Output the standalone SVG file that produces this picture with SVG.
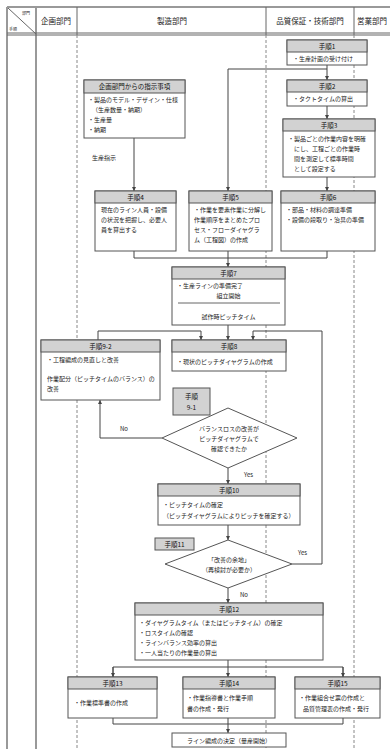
<svg xmlns="http://www.w3.org/2000/svg" width="390" height="749" viewBox="0 0 390 749">
<style>
.box{fill:#fff;stroke:#555;stroke-width:1}
.hd{fill:#d2d2d2;stroke:#555;stroke-width:1}
.lane{stroke:#888;stroke-width:1;stroke-dasharray:3 2;fill:none}
.frame{stroke:#999;stroke-width:2;fill:none}
.sep{stroke:#666;stroke-width:1;fill:none}
.ln{stroke:#444;stroke-width:1;fill:none}
.t{font-family:"Noto Sans CJK JP","Noto Sans",sans-serif;font-size:6px;fill:#222}
.h{font-family:"Noto Sans CJK JP","Noto Sans",sans-serif;font-size:6.5px;fill:#111;text-anchor:middle}
.c{text-anchor:middle}
.lh{font-family:"Noto Sans CJK JP","Noto Sans",sans-serif;font-size:7.5px;fill:#222;text-anchor:middle}
</style>
<defs>
<marker id="ar" viewBox="0 0 6 6" refX="6" refY="3" markerWidth="4" markerHeight="4" orient="auto">
<path d="M0,0 L6,3 L0,6 Z" fill="#444"/>
</marker>
</defs>
<rect width="390" height="749" fill="#fff"/>
<g id="lanes">
<line class="frame" x1="7" y1="7" x2="7" y2="749"/>
<line class="frame" x1="36" y1="7" x2="36" y2="749"/>
<line class="frame" x1="7" y1="7" x2="390" y2="7"/>
<line class="sep" x1="7" y1="33" x2="390" y2="33"/>
<line class="sep" x1="7" y1="35" x2="390" y2="35"/>
<line class="sep" x1="77" y1="7" x2="77" y2="35"/>
<line class="sep" x1="266" y1="7" x2="266" y2="35"/>
<line class="sep" x1="354" y1="7" x2="354" y2="35"/>
<line class="lane" x1="77" y1="35" x2="77" y2="749"/>
<line class="lane" x1="266" y1="35" x2="266" y2="749"/>
<line class="lane" x1="354" y1="35" x2="354" y2="749"/>
<line class="sep" x1="8" y1="8" x2="36" y2="34"/>
<text class="t" x="22" y="15" style="font-size:4px">部門</text>
<text class="t" x="9" y="31" style="font-size:4px">手順</text>
<text class="lh" x="56" y="24">企画部門</text>
<text class="lh" x="172" y="24">製造部門</text>
<text class="lh" x="310" y="24">品質保証・技術部門</text>
<text class="lh" x="372" y="24">営業部門</text>
</g>
<g id="connectors">
<path class="ln" d="M327,65 V80" marker-end="url(#ar)"/>
<path class="ln" d="M327,69 H228 V191" marker-end="url(#ar)"/>
<path class="ln" d="M327,106 V119" marker-end="url(#ar)"/>
<path class="ln" d="M327,177 V191" marker-end="url(#ar)"/>
<path class="ln" d="M134,138 V191" marker-end="url(#ar)"/>
<path class="ln" d="M134,251 V258 H327 V251 M228,251 V258"/>
<path class="ln" d="M228,258 V267" marker-end="url(#ar)"/>
<path class="ln" d="M228,325 V340" marker-end="url(#ar)"/>
<path class="ln" d="M98,340 V331 H201 V340" marker-end="url(#ar)"/>
<path class="ln" d="M162,438 H100 V400" marker-end="url(#ar)"/>
<path class="ln" d="M228,468 V484" marker-end="url(#ar)"/>
<path class="ln" d="M228,525 V540" marker-end="url(#ar)"/>
<path class="ln" d="M292,564 H322 V331 H253 V340" marker-end="url(#ar)"/>
<path class="ln" d="M228,588 V603" marker-end="url(#ar)"/>
<path class="ln" d="M228,660 V667 M113,677 V667 H343 V677"/>
<path class="ln" d="M113,667 V677" marker-end="url(#ar)"/>
<path class="ln" d="M228,667 V677" marker-end="url(#ar)"/>
<path class="ln" d="M343,667 V677" marker-end="url(#ar)"/>
<path class="ln" d="M113,718 V724 H343 V718 M228,718 V724"/>
<path class="ln" d="M228,724 V733" marker-end="url(#ar)"/>
<text class="t" x="92" y="160">生産指示</text>
<text class="t" x="120" y="431">No</text>
<text class="t" x="244" y="477">Yes</text>
<text class="t" x="298" y="555">Yes</text>
<text class="t" x="240" y="597">No</text>
</g>
<g id="step1">
<rect class="box" x="287" y="40" width="80" height="25"/>
<rect class="hd" x="287" y="40" width="80" height="12"/>
<text class="h" x="327" y="48.5">手順1</text>
<text class="t" x="293" y="61">・生産計画の受け付け</text>
</g>
<g id="step2">
<rect class="box" x="287" y="80" width="80" height="26"/>
<rect class="hd" x="287" y="80" width="80" height="12"/>
<text class="h" x="327" y="88.5">手順2</text>
<text class="t" x="293" y="101">・タクトタイムの算出</text>
</g>
<g id="step3">
<rect class="box" x="283" y="119" width="92" height="58"/>
<rect class="hd" x="283" y="119" width="92" height="12"/>
<text class="h" x="329" y="127.5">手順3</text>
<text class="t" x="288" y="141">・製品ごとの作業内容を明確</text>
<text class="t" x="294" y="151">にし、工程ごとの作業時</text>
<text class="t" x="294" y="161">間を測定して標準時間</text>
<text class="t" x="294" y="171">として設定する</text>
</g>
<g id="plan">
<rect class="box" x="84" y="80" width="101" height="58"/>
<rect class="hd" x="84" y="80" width="101" height="13"/>
<text class="h" x="134.5" y="89">企画部門からの指示事項</text>
<text class="t" x="88" y="102">・製品のモデル・デザイン・仕様</text>
<text class="t" x="92" y="112">（生産数量・納期）</text>
<text class="t" x="88" y="122">・生産量</text>
<text class="t" x="88" y="132">・納期</text>
</g>
<g id="step4">
<rect class="box" x="95" y="191" width="81" height="60"/>
<rect class="hd" x="95" y="191" width="81" height="12"/>
<text class="h" x="135.5" y="199.5">手順4</text>
<text class="t" x="101" y="212">現在のライン人員・設備</text>
<text class="t" x="101" y="222">の状況を把握し、必要人</text>
<text class="t" x="101" y="232">員を算出する</text>
</g>
<g id="step5">
<rect class="box" x="189" y="191" width="83" height="60"/>
<rect class="hd" x="189" y="191" width="83" height="12"/>
<text class="h" x="230.5" y="199.5">手順5</text>
<text class="t" x="194" y="212">・作業を要素作業に分解し</text>
<text class="t" x="194" y="222">作業順序をまとめたプロ</text>
<text class="t" x="194" y="232">セス・フローダイヤグラ</text>
<text class="t" x="194" y="242">ム（工程図）の作成</text>
</g>
<g id="step6">
<rect class="box" x="281" y="191" width="94" height="60"/>
<rect class="hd" x="281" y="191" width="94" height="12"/>
<text class="h" x="328" y="199.5">手順6</text>
<text class="t" x="286" y="212">・部品・材料の調達準備</text>
<text class="t" x="286" y="222">・設備の段取り・治具の準備</text>
</g>
<g id="step7">
<rect class="box" x="172" y="267" width="113" height="58"/>
<rect class="hd" x="172" y="267" width="113" height="12"/>
<text class="h" x="228.5" y="275.5">手順7</text>
<text class="t" x="177" y="288">・生産ラインの準備完了</text>
<text class="t c" x="228.5" y="298">組立開始</text>
<line class="sep" x1="178" y1="303" x2="280" y2="303"/>
<text class="t c" x="228.5" y="319">試作時ピッチタイム</text>
</g>
<g id="step9-2">
<rect class="box" x="41" y="340" width="119" height="60"/>
<rect class="hd" x="41" y="340" width="119" height="12"/>
<text class="h" x="100.5" y="348.5">手順9-2</text>
<text class="t" x="47" y="362">・工程編成の見直しと改善</text>
<text class="t" x="47" y="381">作業配分（ピッチタイムのバランス）の</text>
<text class="t" x="47" y="391">改善</text>
</g>
<g id="step8">
<rect class="box" x="172" y="340" width="114" height="31"/>
<rect class="hd" x="172" y="340" width="114" height="12"/>
<text class="h" x="229" y="348.5">手順8</text>
<text class="t" x="177" y="364">・現状のピッチダイヤグラムの作成</text>
</g>
<g id="step9-1">
<rect class="hd" x="173" y="388" width="37" height="27"/>
<text class="h" x="191.5" y="399">手順</text>
<text class="h" x="191.5" y="410">9-1</text>
</g>
<g id="decision1">
<polygon class="box" points="228,408 297,438 228,468 162,438"/>
<text class="t c" x="229" y="431">バランスロスの改善が</text>
<text class="t c" x="229" y="441">ピッチダイヤグラムで</text>
<text class="t c" x="229" y="451">確認できたか</text>
</g>
<g id="step10">
<rect class="box" x="158" y="484" width="142" height="41"/>
<rect class="hd" x="158" y="484" width="142" height="12"/>
<text class="h" x="229" y="492.5">手順10</text>
<text class="t" x="163" y="507">・ピッチタイムの確定</text>
<text class="t" x="163" y="518">（ピッチダイヤグラムによりピッチを確定する）</text>
</g>
<g id="step11">
<rect class="hd" x="155" y="538" width="39" height="12"/>
<text class="h" x="174.5" y="546.5">手順11</text>
</g>
<g id="decision2">
<polygon class="box" points="228,540 292,564 228,588 165,564"/>
<text class="t c" x="229" y="562">「改善の余地」</text>
<text class="t c" x="229" y="572">（再検討が必要か）</text>
</g>
<g id="step12">
<rect class="box" x="135" y="603" width="188" height="57"/>
<rect class="hd" x="135" y="603" width="188" height="12"/>
<text class="h" x="229" y="611.5">手順12</text>
<text class="t" x="139" y="625">・ダイヤグラムタイム（またはピッチタイム）の確定</text>
<text class="t" x="139" y="635">・ロスタイムの確認</text>
<text class="t" x="139" y="645">・ラインバランス効率の算出</text>
<text class="t" x="139" y="655">・一人当たりの作業量の算出</text>
</g>
<g id="step13">
<rect class="box" x="68" y="677" width="89" height="41"/>
<rect class="hd" x="68" y="677" width="89" height="12"/>
<text class="h" x="112.5" y="685.5">手順13</text>
<text class="t" x="74" y="705">・作業標準書の作成</text>
</g>
<g id="step14">
<rect class="box" x="183" y="677" width="92" height="41"/>
<rect class="hd" x="183" y="677" width="92" height="12"/>
<text class="h" x="229" y="685.5">手順14</text>
<text class="t" x="187" y="700">・作業指導書と作業手順</text>
<text class="t" x="187" y="711">書の作成・発行</text>
</g>
<g id="step15">
<rect class="box" x="295" y="677" width="85" height="41"/>
<rect class="hd" x="295" y="677" width="85" height="12"/>
<text class="h" x="337.5" y="685.5">手順15</text>
<text class="t" x="299" y="700">・作業組合せ票の作成と</text>
<text class="t" x="303" y="711">品質管理表の作成・発行</text>
</g>
<g id="final">
<rect class="box" x="172" y="733" width="114" height="14"/>
<text class="t c" x="229" y="742.5">ライン編成の決定（量産開始）</text>
</g>
</svg>
